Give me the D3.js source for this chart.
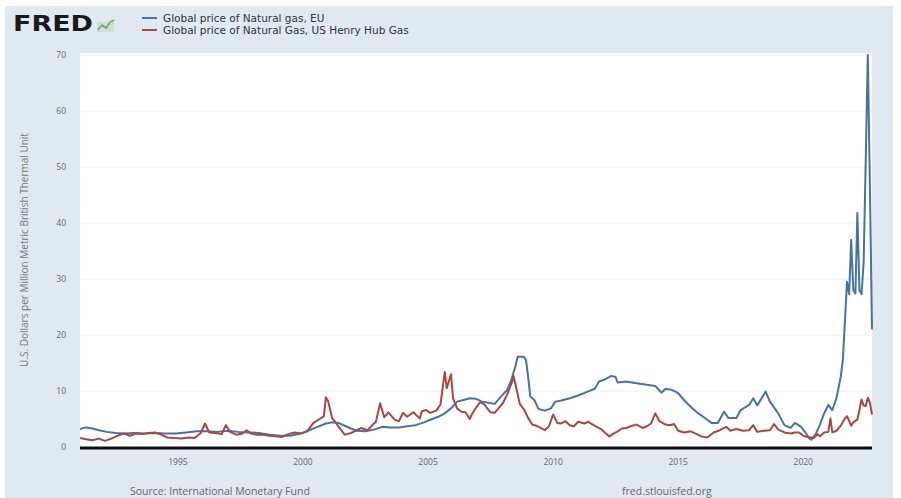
<!DOCTYPE html>
<html>
<head>
<meta charset="utf-8">
<script src="https://cdn.jsdelivr.net/npm/d3@7"></script>
<style>
  html, body { margin: 0; padding: 0; background: #fff; }
  svg { display: block; font-family: "Open Sans", "DejaVu Sans", sans-serif; }
</style>
</head>
<body>
<svg id="chart" width="901" height="498"></svg>
<script>
const euDates = ["1991-02","1991-05","1991-08","1991-11","1992-03","1992-07","1992-11","1993-04","1993-09","1994-02","1994-07","1994-12","1995-05","1995-10","1996-03","1996-08","1997-01","1997-06","1997-11","1998-04","1998-09","1999-02","1999-07","1999-12","2000-04","2000-08","2000-12","2001-03","2001-06","2001-09","2001-12","2002-03","2002-07","2002-11","2003-03","2003-07","2003-11","2004-03","2004-07","2004-11","2005-03","2005-06","2005-09","2005-12","2006-03","2006-06","2006-09","2006-12","2007-03","2007-06","2007-09","2007-12","2008-03","2008-05","2008-07","2008-08","2008-11","2008-12","2009-01","2009-02","2009-04","2009-06","2009-09","2009-12","2010-02","2010-05","2010-09","2011-01","2011-05","2011-09","2011-11","2012-02","2012-05","2012-07","2012-08","2012-12","2013-05","2013-10","2014-02","2014-05","2014-07","2014-10","2015-01","2015-04","2015-07","2015-10","2016-01","2016-05","2016-08","2016-11","2017-01","2017-05","2017-07","2017-11","2018-01","2018-03","2018-07","2018-09","2019-01","2019-04","2019-07","2019-09","2019-12","2020-02","2020-04","2020-05","2020-07","2020-09","2020-11","2021-01","2021-03","2021-05","2021-07","2021-08","2021-09","2021-10","2021-11","2021-12","2022-01","2022-02","2022-03","2022-04","2022-05","2022-06","2022-07","2022-08","2022-09","2022-10"];
const euValues = [3.2,3.5,3.3,3.0,2.7,2.5,2.4,2.5,2.4,2.5,2.4,2.4,2.6,2.8,2.8,2.7,2.9,2.7,2.6,2.5,2.2,2.0,2.0,2.4,3.0,3.6,4.2,4.4,4.3,3.8,3.3,2.9,2.8,3.1,3.6,3.5,3.5,3.7,3.9,4.4,5.0,5.4,6.0,6.9,8.1,8.4,8.7,8.6,8.1,7.9,7.7,9.0,10.2,12.0,14.5,16.1,16.1,15.5,12.5,9.0,8.4,6.8,6.5,6.9,8.1,8.3,8.7,9.2,9.8,10.4,11.7,12.1,12.7,12.5,11.5,11.7,11.4,11.1,10.9,9.7,10.4,10.2,9.6,8.3,7.2,6.2,5.4,4.3,4.3,6.3,5.2,5.2,6.6,7.5,8.7,7.4,9.9,8.1,6.0,3.9,3.4,4.3,3.6,2.6,1.5,1.3,2.3,4.0,6.0,7.5,6.6,8.8,12.5,15.5,22.5,29.5,27.3,37.0,28.0,27.4,41.8,28.0,27.3,33.0,51.0,70.0,46.0,21.0];

const usDates = ["1991-02","1991-05","1991-08","1991-11","1992-02","1992-05","1992-08","1992-11","1993-02","1993-05","1993-08","1993-11","1994-02","1994-05","1994-08","1994-11","1995-03","1995-06","1995-09","1995-12","1996-02","1996-04","1996-07","1996-10","1996-12","1997-02","1997-05","1997-08","1997-10","1997-12","1998-03","1998-06","1998-09","1998-12","1999-03","1999-06","1999-09","1999-12","2000-03","2000-06","2000-09","2000-11","2000-12","2001-01","2001-03","2001-05","2001-07","2001-09","2001-10","2001-12","2002-03","2002-05","2002-08","2002-10","2002-12","2003-02","2003-04","2003-06","2003-09","2003-11","2004-01","2004-03","2004-06","2004-09","2004-10","2004-12","2005-02","2005-05","2005-07","2005-09","2005-10","2005-12","2006-01","2006-03","2006-05","2006-07","2006-09","2006-10","2006-12","2007-02","2007-04","2007-07","2007-09","2007-11","2008-01","2008-03","2008-05","2008-06","2008-07","2008-09","2008-11","2009-01","2009-03","2009-05","2009-07","2009-09","2009-11","2010-01","2010-03","2010-05","2010-07","2010-09","2010-11","2011-01","2011-04","2011-06","2011-08","2011-10","2011-12","2012-02","2012-04","2012-06","2012-08","2012-10","2012-12","2013-03","2013-05","2013-08","2013-10","2013-12","2014-02","2014-04","2014-07","2014-09","2014-11","2015-01","2015-04","2015-07","2015-10","2015-12","2016-03","2016-06","2016-09","2016-12","2017-02","2017-05","2017-08","2017-11","2018-01","2018-03","2018-06","2018-09","2018-11","2019-01","2019-04","2019-07","2019-09","2019-11","2020-01","2020-03","2020-06","2020-08","2020-09","2020-11","2021-01","2021-02","2021-03","2021-05","2021-07","2021-09","2021-10","2021-12","2022-01","2022-03","2022-04","2022-05","2022-06","2022-07","2022-08","2022-09","2022-10"];
const usValues = [1.6,1.4,1.2,1.5,1.1,1.5,2.0,2.4,2.0,2.4,2.3,2.5,2.6,2.2,1.7,1.6,1.5,1.7,1.6,2.5,4.2,2.6,2.5,2.3,3.9,2.7,2.2,2.4,3.0,2.4,2.2,2.2,2.0,1.9,1.8,2.3,2.6,2.4,2.8,4.3,5.0,5.5,8.9,8.2,5.2,4.2,3.2,2.2,2.3,2.5,3.0,3.4,3.0,3.8,4.5,7.8,5.3,6.2,4.9,4.6,6.1,5.4,6.2,5.1,6.4,6.6,6.1,6.5,7.6,13.4,10.5,13.0,8.7,6.9,6.3,6.2,5.0,5.8,7.0,8.0,7.6,6.2,6.1,7.0,7.9,9.4,11.3,12.7,11.1,7.7,6.7,5.2,4.0,3.8,3.4,3.0,3.7,5.8,4.3,4.2,4.6,3.9,3.7,4.5,4.2,4.5,4.0,3.6,3.2,2.5,1.9,2.4,2.8,3.3,3.4,3.8,4.0,3.4,3.7,4.2,6.0,4.6,4.0,3.9,4.1,2.9,2.6,2.8,2.3,1.9,1.7,2.6,3.0,3.6,2.9,3.2,2.9,3.0,3.9,2.7,2.9,3.0,4.1,3.1,2.6,2.4,2.6,2.6,2.0,1.8,1.6,2.3,1.9,2.6,2.7,5.1,2.6,2.9,3.8,5.1,5.5,3.8,4.4,4.9,6.6,8.5,7.4,7.3,8.8,7.9,5.8];

const yTicks = [0, 10, 20, 30, 40, 50, 60, 70];
const xTickYears = [1995, 2000, 2005, 2010, 2015, 2020];
const seriesNames = ["Global price of Natural gas, EU", "Global price of Natural Gas, US Henry Hub Gas"];
const seriesColors = ["#4572a7", "#aa4643"];

const parse = d3.timeParse("%Y-%m");
const H = 498;
const plot = { left: 80, right: 872, top: 53, bottom: 447 };

const svg = d3.select("#chart");

svg.append("rect").attr("x", 5).attr("y", 6).attr("width", 888).attr("height", H - 6).attr("fill", "#e1e9f0");
svg.append("rect").attr("x", plot.left).attr("y", plot.top)
  .attr("width", plot.right - plot.left).attr("height", plot.bottom - plot.top).attr("fill", "#fff");

const x = d3.scaleTime().domain([parse("1991-02"), parse("2022-10")]).range([plot.left, plot.right]);
const y = d3.scaleLinear().domain([0, 70]).range([plot.bottom, 55]);

// grid + tick labels
svg.append("g").selectAll("line").data(yTicks.filter((d) => d > 0)).enter().append("line")
  .attr("x1", plot.left).attr("x2", plot.right)
  .attr("y1", (d) => y(d)).attr("y2", (d) => y(d))
  .attr("stroke", "#ececec").attr("stroke-width", 1);

svg.append("g").selectAll("text").data(yTicks).enter().append("text")
  .attr("x", 66).attr("y", (d) => y(d) + 3)
  .attr("text-anchor", "end").attr("font-size", 8.5).attr("fill", "#666")
  .text((d) => d);

svg.append("g").selectAll("text").data(xTickYears).enter().append("text")
  .attr("x", (d) => x(new Date(d, 0, 1))).attr("y", 465)
  .attr("text-anchor", "middle").attr("font-size", 8.5).attr("fill", "#666")
  .text((d) => d);

svg.append("text")
  .attr("transform", `translate(28,${(plot.top + plot.bottom) / 2}) rotate(-90)`)
  .attr("text-anchor", "middle").attr("font-size", 10).attr("fill", "#777")
  .text("U.S. Dollars per Million Metric British Thermal Unit");

const line = d3.line().x((d) => x(d.date)).y((d) => y(d.value));
const series = [
  euDates.map((d, i) => ({ date: parse(d), value: euValues[i] })),
  usDates.map((d, i) => ({ date: parse(d), value: usValues[i] })),
];

svg.append("g").selectAll("path").data(series).enter().append("path")
  .attr("d", line).attr("fill", "none")
  .attr("stroke", (d, i) => seriesColors[i]).attr("stroke-width", 2)
  .attr("stroke-linejoin", "round");

svg.append("line")
  .attr("x1", plot.left).attr("x2", plot.right)
  .attr("y1", y(0) + 1).attr("y2", y(0) + 1)
  .attr("stroke", "#111").attr("stroke-width", 3);

// header
svg.append("text").attr("x", 13).attr("y", 31)
  .attr("font-family", "'DejaVu Sans', sans-serif").attr("font-weight", 900)
  .attr("font-size", 21).attr("fill", "#1a1a1a")
  .attr("textLength", 80).attr("lengthAdjust", "spacingAndGlyphs")
  .text("FRED");

const icon = svg.append("g").attr("transform", "translate(97,18)");
icon.append("rect").attr("x", 0).attr("y", 4).attr("width", 17).attr("height", 10).attr("fill", "#c9dcc6").attr("opacity", 0.8);
icon.append("path").attr("d", "M1,12 L5,7 L9,10 L13,4 L17,2")
  .attr("fill", "none").attr("stroke", "#6fa86a").attr("stroke-width", 1.6);

const legend = svg.append("g").selectAll("g").data(seriesNames).enter().append("g")
  .attr("transform", (d, i) => `translate(142,${18 + i * 12})`);
legend.append("line").attr("x1", 0).attr("x2", 15).attr("y1", 0).attr("y2", 0)
  .attr("stroke", (d, i) => seriesColors[i]).attr("stroke-width", 2);
legend.append("text").attr("x", 21).attr("y", 3.5)
  .attr("font-family", "'DejaVu Sans', sans-serif")
  .attr("font-size", 10.5).attr("fill", "#333").text((d) => d);

svg.append("text").attr("x", 130).attr("y", 495).attr("font-size", 10.5).attr("fill", "#666")
  .text("Source: International Monetary Fund");
svg.append("text").attr("x", 622).attr("y", 495).attr("font-size", 10.5).attr("fill", "#666")
  .text("fred.stlouisfed.org");
</script>
</body>
</html>
